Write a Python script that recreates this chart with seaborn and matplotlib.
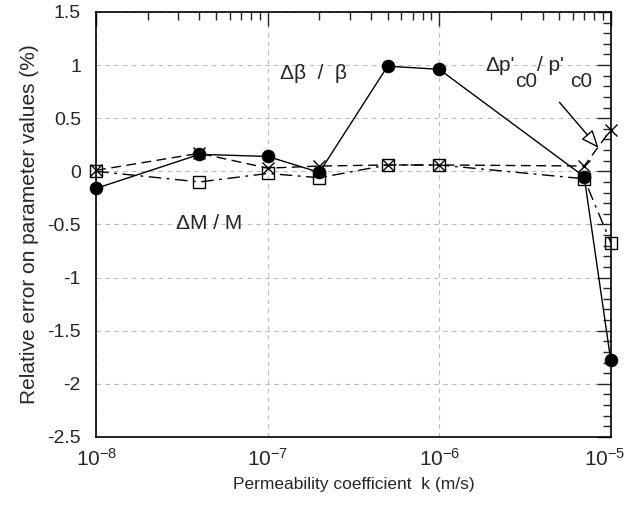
import numpy as np
import pandas as pd
import matplotlib
matplotlib.use("Agg")
import matplotlib.pyplot as plt
import matplotlib.transforms as mtransforms
from matplotlib.ticker import MultipleLocator, LogLocator, NullFormatter, FixedLocator
import seaborn as sns

sns.set_style("white")
plt.rcParams["font.family"] = ["Liberation Sans", "DejaVu Sans"]
plt.rcParams["mathtext.fontset"] = "custom"
plt.rcParams["mathtext.rm"] = "Liberation Sans"
plt.rcParams["mathtext.it"] = "Liberation Sans"
plt.rcParams["mathtext.default"] = "regular"
plt.rcParams["axes.unicode_minus"] = False

k = [1e-8, 4e-8, 1e-7, 2e-7, 5e-7, 1e-6, 7e-6, 1e-5]
beta_err = [-0.16, 0.16, 0.14, -0.01, 0.99, 0.96, -0.05, -1.78]
m_err = [0.0, -0.10, -0.02, -0.06, 0.06, 0.06, -0.07, -0.67]
pc0_err = [0.01, 0.17, 0.03, 0.05, 0.06, 0.06, 0.05, 0.39]
xtick_labels = ["10$^{-8}$", "10$^{-7}$", "10$^{-6}$", "10$^{-5}$"]

df = pd.DataFrame({"k": k, "beta": beta_err, "M": m_err, "pc0": pc0_err})

fig = plt.figure(figsize=(6.29, 5.09), dpi=100)
ax = fig.add_axes([0.153, 0.1415, 0.818, 0.835])

sns.lineplot(data=df, x="k", y="M", ax=ax, color="black", lw=1, marker="s",
             markersize=8, markerfacecolor="none", markeredgecolor="black",
             markeredgewidth=1, clip_on=False)
ax.lines[-1].set_dashes([9, 4, 2, 4])
sns.lineplot(data=df, x="k", y="pc0", ax=ax, color="black", lw=1, marker="x",
             markersize=9, markeredgewidth=1, markeredgecolor="black",
             clip_on=False)
ax.lines[-1].set_dashes([7, 4])
sns.lineplot(data=df, x="k", y="beta", ax=ax, color="black", lw=1, marker="o",
             markersize=9, markerfacecolor="black", markeredgecolor="black",
             clip_on=False)
for ln in ax.lines:
    ln.set_zorder(5)

ax.set_xscale("log")
ax.set_xlim(1e-8, 1e-5)
ax.set_ylim(-2.5, 1.5)
ax.xaxis.set_major_locator(FixedLocator([1e-8, 1e-7, 1e-6, 1e-5]))
ax.set_xticklabels(xtick_labels)
ax.xaxis.set_minor_locator(LogLocator(base=10, subs=np.arange(2, 10)))
ax.xaxis.set_minor_formatter(NullFormatter())
ax.set_yticks(np.arange(-2.5, 1.51, 0.5))
ax.set_yticklabels(["-2.5", "-2", "-1.5", "-1", "-0.5", "0", "0.5", "1", "1.5"])
ax.yaxis.set_minor_locator(MultipleLocator(0.1))

ax.grid(True, which="major", color="#bbbbbb", ls=(0, (4, 4)), lw=0.8)
ax.tick_params(which="major", direction="in", length=10, width=1,
               top=True, right=True, labelsize=14)
ax.tick_params(axis="y", which="major", pad=11)
ax.tick_params(axis="x", which="major", pad=8, labelsize=15)
ax.tick_params(which="minor", direction="in", length=6, width=1,
               top=True, right=True)
for s in ax.spines.values():
    s.set_linewidth(1.2)
    s.set_color("black")

# nudge the last x label so it stays on the canvas
last = ax.get_xticklabels()[-1]
last.set_transform(last.get_transform() +
                   mtransforms.ScaledTranslation(-4 / 72, 0, fig.dpi_scale_trans))

ax.set_xlabel("Permeability coefficient  k (m/s)", fontsize=12.5, labelpad=5)
ax.set_ylabel("Relative error on parameter values (%)", fontsize=15, labelpad=6)

ax.text(1.18e-7, 0.92, "Δβ  /  β", fontsize=15, ha="left", va="center")
ax.text(2.9e-8, -0.49, "ΔM / M", fontsize=15, ha="left", va="center")

# p'c0 label, pieced together so the subscripts stay large like the original
t1 = ax.text(1.87e-6, 1.09, "Δp'", fontsize=15, ha="left", va="top")
t2 = ax.annotate("c0", xy=(1, 0.15), xycoords=t1, fontsize=15, ha="left", va="top")
t3 = ax.annotate("/ p'", xy=(1, 1), xycoords=(t2, t1), fontsize=15,
                 ha="left", va="top")
ax.annotate("c0", xy=(1, 1), xycoords=(t3, t2), xytext=(4, 0),
            textcoords="offset points", fontsize=15, ha="left", va="top")

ax.annotate("", xy=(8.7e-6, 0.2), xytext=(4.9e-6, 0.67),
            arrowprops=dict(arrowstyle="-|>,head_width=0.45,head_length=1.1",
                            facecolor="white", edgecolor="black", lw=1))

fig.savefig("out.png", dpi=100)
